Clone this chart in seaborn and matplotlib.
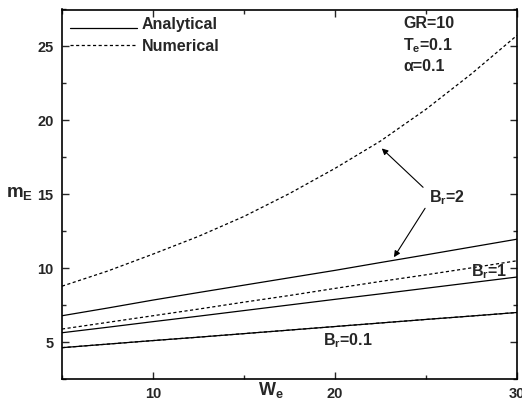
import numpy as np
import pandas as pd
import seaborn as sns
import matplotlib
matplotlib.use("Agg")
import matplotlib.pyplot as plt
from matplotlib.lines import Line2D
from matplotlib.legend_handler import HandlerLine2D
from matplotlib.ticker import MultipleLocator

# Dimensionless electric field parameter W_e
we = [5, 7.5, 10, 12.5, 15, 17.5, 20, 22.5, 25, 27.5, 30]

# m_E for Br = 2
num_br2 = [8.78, 9.80, 10.95, 12.15, 13.5, 15.05, 16.75, 18.6, 20.75, 23.15, 25.75]
ana_br2 = [6.78, 7.30, 7.84, 8.35, 8.85, 9.35, 9.85, 10.38, 10.9, 11.43, 11.96]
# m_E for Br = 1
num_br1 = [5.88, 6.33, 6.78, 7.23, 7.70, 8.15, 8.63, 9.10, 9.55, 10.02, 10.5]
ana_br1 = [5.63, 6.00, 6.38, 6.75, 7.13, 7.51, 7.89, 8.26, 8.64, 9.02, 9.40]
# m_E for Br = 0.1 (both solutions coincide)
num_br01 = [4.62, 4.86, 5.10, 5.33, 5.57, 5.81, 6.05, 6.29, 6.53, 6.76, 7.00]
ana_br01 = [4.62, 4.86, 5.10, 5.33, 5.57, 5.81, 6.05, 6.29, 6.53, 6.76, 7.00]

x_ticks = [10, 20, 30]
y_ticks = [5, 10, 15, 20, 25]

sns.set_style("ticks")
FONT = "Liberation Sans"
plt.rcParams["font.family"] = [FONT, "DejaVu Sans"]
plt.rcParams["font.weight"] = "bold"
plt.rcParams["mathtext.fontset"] = "custom"
plt.rcParams["mathtext.rm"] = f"{FONT}:bold"
plt.rcParams["mathtext.it"] = f"{FONT}:bold"
plt.rcParams["mathtext.bf"] = f"{FONT}:bold"

fig = plt.figure(figsize=(5.22, 4.03), dpi=100)
ax = fig.add_axes([62 / 522, 1 - 379 / 403, (517 - 62) / 522, (379 - 9.5) / 403])

DASH = (0, (2.5, 2.0))
series = [
    (num_br2, DASH), (ana_br2, "-"),
    (num_br1, DASH), (ana_br1, "-"),
    (ana_br01, "-"), (num_br01, DASH),
]
for vals, ls in series:
    sns.lineplot(x=we, y=vals, ax=ax, color="black", linewidth=0.9,
                 linestyle=ls, legend=False)

ax.set_xlim(5, 30)
ax.set_ylim(2.5, 27.5)
ax.set_xticks(x_ticks)
ax.set_yticks(y_ticks)
ax.xaxis.set_minor_locator(MultipleLocator(5))
ax.yaxis.set_minor_locator(MultipleLocator(2.5))
ax.tick_params(which="both", direction="in", top=True, right=True,
               width=1.0, labelsize=10.5)
ax.tick_params(which="major", length=5)
ax.tick_params(which="minor", length=3)
ax.tick_params(axis="x", pad=6)
ax.tick_params(axis="y", pad=6)
ax.set_xticklabels([str(t) for t in x_ticks], fontweight="bold")
ax.set_yticklabels([str(t) for t in y_ticks], fontweight="bold")
for sp in ax.spines.values():
    sp.set_visible(True)
    sp.set_linewidth(1.2)
    sp.set_color("black")
ax.set_xlabel("")
ax.set_ylabel("")


class UnderlineHandler(HandlerLine2D):
    """Legend key drawn along the text baseline, like an underline."""

    def create_artists(self, legend, orig_handle, xdescent, ydescent,
                       width, height, fontsize, trans):
        artists = super().create_artists(legend, orig_handle, xdescent,
                                         ydescent, width, height, fontsize,
                                         trans)
        for a in artists:
            if isinstance(a, Line2D):
                a.set_ydata([y - 0.38 * height for y in a.get_ydata()])
        return artists


# Legend
h_ana = Line2D([], [], color="black", lw=0.9, linestyle="-")
h_num = Line2D([], [], color="black", lw=0.9, linestyle=DASH)
ax.legend([h_ana, h_num], ["Analytical", "Numerical"], loc="upper left",
          bbox_to_anchor=((70 - 62) / 455, (379 - 17) / 369.5),
          frameon=False, borderpad=0, borderaxespad=0,
          handlelength=4.2, handletextpad=0.3, labelspacing=0.42,
          handler_map={h_ana: UnderlineHandler()},
          prop={"family": FONT, "weight": "bold", "size": 11.5})

# Parameter block
params = ["GR=10", "T$_\\mathregular{e}$=0.1", "\u03b1=0.1"]
for txt, yb in zip(params, [0.950, 0.890, 0.834]):
    ax.text((403 - 62) / 455, yb, txt, transform=ax.transAxes, ha="left",
            va="baseline", fontsize=11.5, fontweight="bold")

# Curve labels with arrows
ax.text(25.16, 14.8, "B$_\\mathregular{r}$=2", ha="left", va="center",
        fontsize=11.5, fontweight="bold")
arrow = dict(arrowstyle="-|>", color="black", lw=0.8, mutation_scale=9,
             shrinkA=0, shrinkB=0)
ax.annotate("", xy=(22.57, 18.1), xytext=(24.84, 15.47), arrowprops=arrow)
ax.annotate("", xy=(23.24, 10.74), xytext=(24.95, 14.05), arrowprops=arrow)
ax.text(27.47, 9.73, "B$_\\mathregular{r}$=1", ha="left", va="center",
        fontsize=11.5, fontweight="bold")
ax.text(19.34, 5.07, "B$_\\mathregular{r}$=0.1", ha="left", va="center",
        fontsize=11.5, fontweight="bold")

# Axis labels
fig.text(258 / 522, 1 - 395 / 403, "W$_\\mathregular{e}$", ha="left",
         va="baseline", fontsize=13, fontweight="bold")
fig.text(6 / 522, 1 - 197 / 403, "m$_\\mathregular{E}$", ha="left",
         va="baseline", fontsize=13.5, fontweight="bold")
fig.text(297 / 522, 1 + 3 / 403, "W$_\\mathregular{e}$", ha="left",
         va="baseline", fontsize=11, fontweight="bold")

fig.savefig("out.png", dpi=100)
